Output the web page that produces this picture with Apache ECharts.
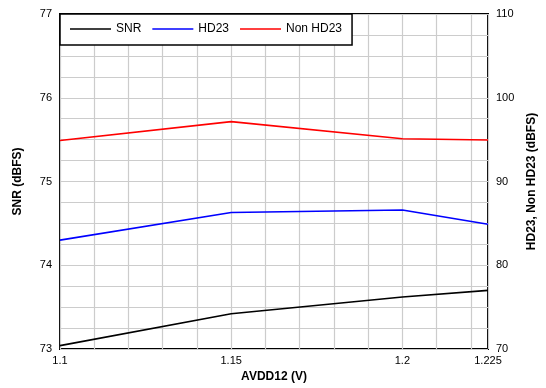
<!DOCTYPE html>
<html><head><meta charset="utf-8">
<script src="https://cdn.jsdelivr.net/npm/echarts@6/dist/echarts.min.js"></script>
<style>html,body{margin:0;padding:0;background:#fff}#c{width:546px;height:388px}</style>
</head><body><div id="c"></div>
<script>
const xValues = [1.1, 1.15, 1.2, 1.225];
const snr = [73.04, 73.42, 73.62, 73.70];
const hd23 = [83.0, 86.3, 86.6, 84.9];
const nonHd23 = [94.9, 97.15, 95.1, 94.95];
const xTickLabels = [1.1, 1.15, 1.2, 1.225];
const leftTickLabels = [73, 74, 75, 76, 77];
const rightTickLabels = [70, 80, 90, 100, 110];

const pairs = (ys) => xValues.map((x, i) => [x, ys[i]]);
const near = (v, list) => list.find(t => Math.abs(t - v) < 1e-6);
const font = 'Liberation Sans, Arial, sans-serif';
const lineIcon = 'path://M0,0 L40,0 L40,1.6 L0,1.6 Z';

const chart = echarts.init(document.getElementById('c'));
chart.setOption({
  animation: false,
  textStyle: { fontFamily: font },
  grid: { left: 60, right: 58, top: 14, bottom: 39, show: true, borderColor: '#000', borderWidth: 2, backgroundColor: 'transparent' },
  legend: {
    left: 60, top: 14, orient: 'horizontal',
    backgroundColor: '#fff', borderColor: '#000', borderWidth: 1.5, borderRadius: 0,
    padding: [9, 10, 10, 10], itemWidth: 41, itemHeight: 2, itemGap: 11,
    textStyle: { fontSize: 12, color: '#000', fontFamily: font },
    data: [
      { name: 'SNR', icon: lineIcon, itemStyle: { color: '#000' } },
      { name: 'HD23', icon: lineIcon, itemStyle: { color: '#0000ff' } },
      { name: 'Non HD23', icon: lineIcon, itemStyle: { color: '#ff0000' } }
    ]
  },
  xAxis: {
    type: 'value', min: 1.1, max: 1.225, interval: 0.01,
    name: 'AVDD12 (V)', nameLocation: 'middle', nameGap: 20,
    nameTextStyle: { fontSize: 12, fontWeight: 'bold', color: '#000', fontFamily: font },
    axisLine: { show: false }, axisTick: { show: false },
    axisLabel: { color: '#000', fontSize: 11, margin: 6, showMaxLabel: true, showMinLabel: true,
      formatter: v => { const t = near(v, xTickLabels); return t === undefined ? '' : String(t); } },
    splitLine: { show: true, lineStyle: { color: '#cccccc', width: 1.2 } }
  },
  yAxis: [{
    type: 'value', min: 73, max: 77, interval: 0.25, position: 'left',
    name: 'SNR (dBFS)', nameLocation: 'middle', nameRotate: 90, nameGap: 36,
    nameTextStyle: { fontSize: 12, fontWeight: 'bold', color: '#000', fontFamily: font },
    axisLine: { show: false }, axisTick: { show: false },
    axisLabel: { color: '#000', fontSize: 11, margin: 8,
      formatter: v => { const t = near(v, leftTickLabels); return t === undefined ? '' : String(t); } },
    splitLine: { show: true, lineStyle: { color: '#cccccc', width: 1.2 } }
  }, {
    type: 'value', min: 70, max: 110, interval: 2.5, position: 'right',
    name: 'HD23, Non HD23 (dBFS)', nameLocation: 'middle', nameRotate: 90, nameGap: 37,
    nameTextStyle: { fontSize: 12, fontWeight: 'bold', color: '#000', fontFamily: font },
    axisLine: { show: false }, axisTick: { show: false },
    axisLabel: { color: '#000', fontSize: 11, margin: 8,
      formatter: v => { const t = near(v, rightTickLabels); return t === undefined ? '' : String(t); } },
    splitLine: { show: false }
  }],
  series: [
    { name: 'SNR', type: 'line', yAxisIndex: 0, data: pairs(snr), symbol: 'none', lineStyle: { color: '#000', width: 1.6 }, itemStyle: { color: '#000' } },
    { name: 'HD23', type: 'line', yAxisIndex: 1, data: pairs(hd23), symbol: 'none', lineStyle: { color: '#0000ff', width: 1.6 }, itemStyle: { color: '#0000ff' } },
    { name: 'Non HD23', type: 'line', yAxisIndex: 1, data: pairs(nonHd23), symbol: 'none', lineStyle: { color: '#ff0000', width: 1.6 }, itemStyle: { color: '#ff0000' } }
  ]
});
</script></body></html>
